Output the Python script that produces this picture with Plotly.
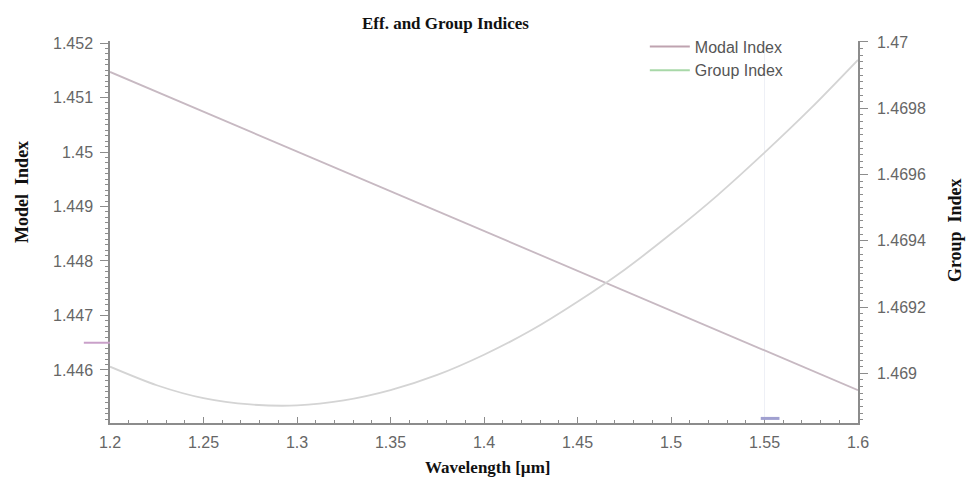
import plotly.graph_objects as go

wavelength = [1.200, 1.225, 1.250, 1.275, 1.300, 1.325, 1.350, 1.375, 1.400,
              1.425, 1.450, 1.475, 1.500, 1.525, 1.550, 1.575, 1.600]
modal_index = [1.451470, 1.451105, 1.450740, 1.450375, 1.450010, 1.449645,
               1.449280, 1.448915, 1.448550, 1.448185, 1.447820, 1.447455,
               1.447090, 1.446725, 1.446360, 1.445995, 1.445630]
group_index = [1.469020, 1.468964, 1.468925, 1.468906, 1.468903, 1.468918,
               1.468949, 1.468995, 1.469056, 1.469129, 1.469216, 1.469312,
               1.469421, 1.469538, 1.469666, 1.469801, 1.469946]

x_ticks = [1.2, 1.25, 1.3, 1.35, 1.4, 1.45, 1.5, 1.55, 1.6]
left_ticks = [1.446, 1.447, 1.448, 1.449, 1.45, 1.451, 1.452]
right_ticks = [1.469, 1.4692, 1.4694, 1.4696, 1.4698, 1.47]

fig = go.Figure()
fig.add_trace(go.Scatter(x=wavelength, y=modal_index, mode="lines",
                         line=dict(color="#c7b9c2", width=1.8), showlegend=False,
                         yaxis="y"))
fig.add_trace(go.Scatter(x=wavelength, y=group_index, mode="lines",
                         line=dict(color="#d4d4d4", width=1.8, shape="spline", smoothing=0.8),
                         showlegend=False, yaxis="y2"))
# legend entries (legend colours differ slightly from plotted lines)
fig.add_trace(go.Scatter(x=[None], y=[None], mode="lines", name="Modal Index",
                         line=dict(color="#bfa3b0", width=2)))
fig.add_trace(go.Scatter(x=[None], y=[None], mode="lines", name="Group Index",
                         line=dict(color="#a8d8a8", width=2)))

axis_col = "#8c8c8c"
tick_font = dict(family="Liberation Sans, Arial", size=16, color="#666666")
serif_bold = "Liberation Serif, Times New Roman"

fig.update_layout(
    width=971, height=486,
    margin=dict(l=110, r=113, t=41, b=63),
    paper_bgcolor="white", plot_bgcolor="white",
    showlegend=True,
    legend=dict(x=0.715, y=1.03, xanchor="left", yanchor="top",
                bgcolor="rgba(0,0,0,0)", font=dict(family="Liberation Sans, Arial", size=16, color="#555555"),
                tracegroupgap=0, itemwidth=40),
    xaxis=dict(range=[1.2, 1.6], tickvals=x_ticks, ticktext=[f"{v:g}" for v in x_ticks],
               showgrid=False, zeroline=False, showline=True, linecolor=axis_col, linewidth=1.5,
               ticks="inside", ticklen=6, tickcolor=axis_col, tickfont=tick_font,
               ticklabelstandoff=4,
               minor=dict(dtick=0.01, ticks="inside", ticklen=3, tickcolor=axis_col)),
    yaxis=dict(range=[1.445027, 1.452037], tickvals=left_ticks, ticktext=[f"{v:g}" for v in left_ticks],
               showgrid=False, zeroline=False, showline=True, linecolor=axis_col, linewidth=1.5,
               ticks="outside", ticklen=8, tickcolor=axis_col, tickfont=tick_font,
               ticklabelstandoff=4,
               minor=dict(dtick=0.0001, ticks="outside", ticklen=3, tickcolor=axis_col)),
    yaxis2=dict(range=[1.46885, 1.470003], tickvals=right_ticks, ticktext=[f"{v:g}" for v in right_ticks],
                overlaying="y", side="right", anchor="x",
                showgrid=False, zeroline=False, showline=True, linecolor=axis_col, linewidth=1.5,
                ticks="outside", ticklen=8, tickcolor=axis_col, tickfont=tick_font,
                ticklabelstandoff=6,
                minor=dict(dtick=0.00002, ticks="outside", ticklen=3, tickcolor=axis_col)),
    annotations=[
        dict(text="<b>Eff. and Group Indices</b>", x=0.448, y=1.0, xref="paper", yref="paper",
             xanchor="center", yanchor="bottom", yshift=6, showarrow=False,
             font=dict(family=serif_bold, size=17, color="#111111")),
        dict(text="<b>Wavelength [µm]</b>", x=0.505, y=0, xref="paper", yref="paper",
             xanchor="center", yanchor="top", yshift=-33, showarrow=False,
             font=dict(family=serif_bold, size=17, color="#111111")),
        dict(text="<b>Model  Index</b>", x=0, y=0.605, xref="paper", yref="paper",
             xanchor="center", yanchor="middle", xshift=-88, textangle=-90, showarrow=False,
             font=dict(family=serif_bold, size=18, color="#111111")),
        dict(text="<b>Group  Index</b>", x=1, y=0.505, xref="paper", yref="paper",
             xanchor="center", yanchor="middle", xshift=97, textangle=-90, showarrow=False,
             font=dict(family=serif_bold, size=18, color="#111111")),
    ],
    shapes=[
        dict(type="line", xref="x", yref="paper", x0=1.55, x1=1.55, y0=0, y1=1,
             line=dict(color="#eef0f6", width=1), layer="below"),
        dict(type="line", xref="paper", yref="y", x0=-0.035, x1=0, y0=1.4465, y1=1.4465,
             line=dict(color="#c9a0c9", width=2)),
        dict(type="line", xref="x", yref="paper", x0=1.548, x1=1.558, y0=0.012, y1=0.012,
             line=dict(color="#a0a0d0", width=3)),
    ],
)

fig.write_html("out.html")
